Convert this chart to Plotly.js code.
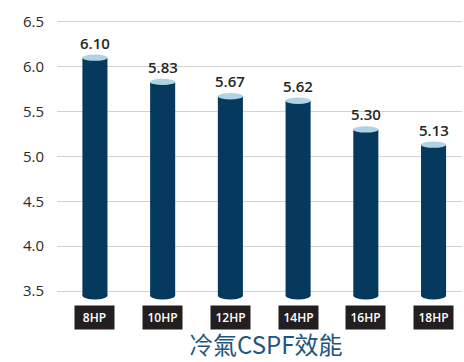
<!DOCTYPE html>
<html><head><meta charset="utf-8">
<script src="https://cdn.plot.ly/plotly-3.0.1.min.js"></script>
<style>html,body{margin:0;padding:0;background:#fff}#c{width:464px;height:362px}</style>
</head><body><div id="c"></div>
<script>
const categories = ["8HP","10HP","12HP","14HP","16HP","18HP"];
const values = [6.10, 5.83, 5.67, 5.62, 5.30, 5.13];
const valueLabels = ["6.10","5.83","5.67","5.62","5.30","5.13"];
const yTicks = [3.5, 4.0, 4.5, 5.0, 5.5, 6.0, 6.5];
const yTickLabels = ["3.5","4.0","4.5","5.0","5.5","6.0","6.5"];
const chartTitle = "冷氣CSPF效能";

const barColor = "#053a5e";
const topColor = "#aed3e2";
const barW = 0.37;
const baseY = 3.45;
const idx = categories.map((c,i)=>i);

const shapes = [];
idx.forEach(i=>{
  shapes.push({type:"circle", xref:"x", yref:"y", x0:i-barW/2, x1:i+barW/2, y0:baseY-0.045, y1:baseY+0.045, fillcolor:barColor, line:{width:0}, layer:"above"});
  shapes.push({type:"circle", xref:"x", yref:"y", x0:i-barW/2, x1:i+barW/2, y0:values[i]-0.035, y1:values[i]+0.035, fillcolor:topColor, line:{width:0}, layer:"above"});
});

const annotations = [];
idx.forEach(i=>{
  annotations.push({x:i, y:values[i], xref:"x", yref:"y", text:valueLabels[i], showarrow:false, yanchor:"bottom", yshift:3, font:{family:"Open Sans, sans-serif", size:15, weight:600, color:"#262626"}});
  annotations.push({x:i, y:0, xref:"x", yref:"paper", text:categories[i], showarrow:false, yanchor:"top", yshift:-5, bgcolor:"#231f20", width:37, height:21, borderpad:1, font:{family:"Open Sans, sans-serif", size:12, weight:600, color:"#fff"}});
});
annotations.push({x:0.514, y:0, xref:"paper", yref:"paper", text:chartTitle, showarrow:false, yanchor:"middle", yshift:-43, font:{family:"Noto Sans CJK TC, sans-serif", size:24, color:"#1f5580"}});

const trace = {
  type:"bar", x:idx, y:values.map(v=>v-baseY), base:baseY, width:barW,
  marker:{color:barColor, line:{width:0}}, hoverinfo:"none"
};

const layout = {
  width:464, height:362,
  margin:{l:57, r:2, t:17, b:62},
  paper_bgcolor:"#fff", plot_bgcolor:"#fff",
  showlegend:false,
  xaxis:{range:[-0.56,5.42], showticklabels:false, showgrid:false, zeroline:false, showline:false, ticks:"", tickvals:idx},
  yaxis:{range:[3.40,6.553], tickvals:yTicks, ticktext:yTickLabels, showgrid:true, gridcolor:"#d2d2d2", gridwidth:1, zeroline:false, showline:false, ticks:"", ticklabelstandoff:12, tickfont:{family:"Open Sans, sans-serif", size:15, weight:500, color:"#2a2a2a"}},
  shapes:shapes, annotations:annotations
};
Plotly.newPlot("c",[trace],layout,{displayModeBar:false,staticPlot:true});
</script></body></html>
